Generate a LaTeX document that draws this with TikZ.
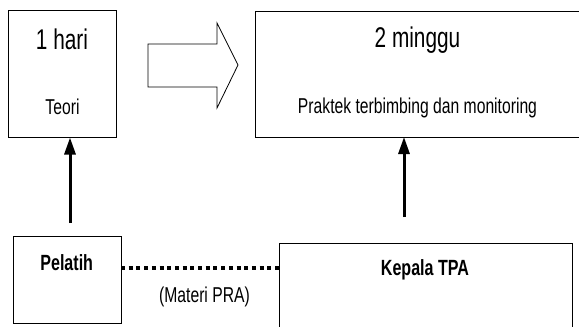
\documentclass[tikz,border=0pt]{standalone}
\usepackage{fontspec}
\setmainfont{Liberation Sans}
\newfontfamily\nf[FakeStretch=0.73]{Liberation Sans}
\usetikzlibrary{arrows.meta}
\tikzset{
  box/.style={draw=black, line width=0.9pt, inner sep=0pt, outer sep=0pt},
  bigtxt/.style={anchor=base, inner sep=0pt, font=\nf\fontsize{28.5}{30}\selectfont},
  smalltxt/.style={anchor=base, inner sep=0pt, font=\nf\fontsize{21.5}{23}\selectfont},
  boldtxt/.style={anchor=base, inner sep=0pt, font=\nf\bfseries\fontsize{22}{24}\selectfont},
  uparrow/.style={line width=3pt, -{Triangle[width=11pt,length=17pt]}},
  dotline/.style={line width=4.5pt, dash pattern=on 4pt off 3.7pt}
}
\begin{document}
\begin{tikzpicture}[x=1pt,y=-1pt]
\useasboundingbox (0,0) rectangle (579,327);
\clip (0,0) rectangle (579,327);
\fill[white] (0,0) rectangle (579,327);
% boxes
\node[box, minimum width=108pt, minimum height=127pt] (b1) at (62,74) {};
\node[box, minimum width=335pt, minimum height=126pt] (b2) at (422.5,74) {};
\node[box, minimum width=108pt, minimum height=87pt] (pel) at (67,279.5) {};
\node[box, minimum width=293pt, minimum height=97pt] (kep) at (425.5,291.5) {};
% texts
\node[bigtxt] (t1) at (62,49) {1 hari};
\node[smalltxt] (t2) at (62.5,114) {Teori};
\node[bigtxt] (t3) at (417.5,47) {2 minggu};
\node[smalltxt] (t4) at (417.5,113) {Praktek terbimbing dan monitoring};
\node[boldtxt] (t5) at (66.7,270) {Pelatih};
\node[boldtxt] (t6) at (425,275) {Kepala TPA};
\node[smalltxt] (t7) at (204.5,302) {(Materi PRA)};
% block arrow
\draw[line width=0.8pt, fill=white] (148,44) -- (217,44) -- (217,23) -- (238,65) -- (217,108) -- (217,87) -- (148,87) -- cycle;
% vertical arrows
\coordinate (a1s) at (70,223);
\coordinate (a2s) at (404,217);
\draw[uparrow] (a1s) -- (a1s |- b1.south);
\draw[uparrow] (a2s) -- (a2s |- b2.south);
% dotted connector
\coordinate (dy) at (0,268);
\draw[dotline] (pel.east |- dy) -- (kep.west |- dy);
\end{tikzpicture}
\end{document}
